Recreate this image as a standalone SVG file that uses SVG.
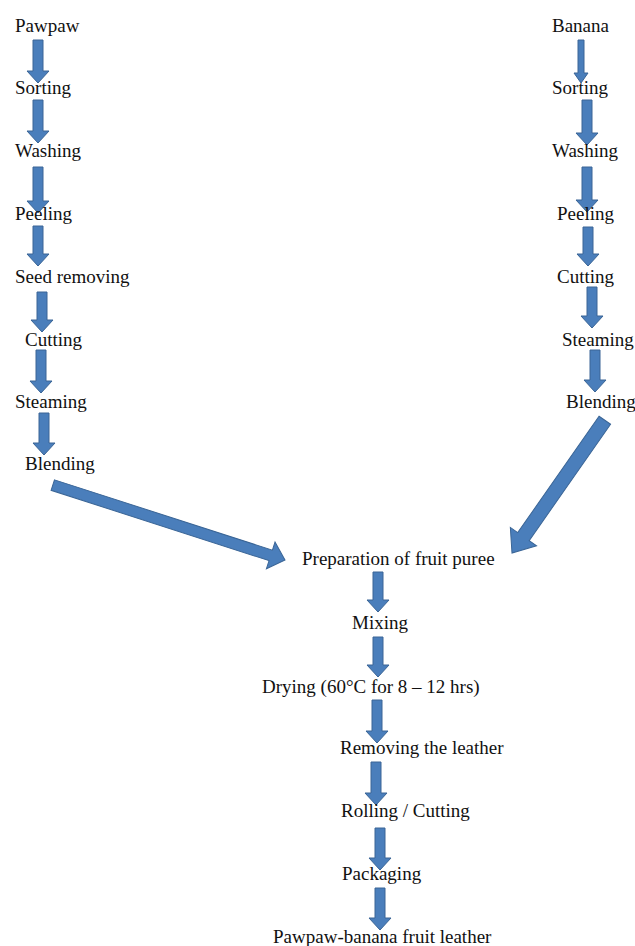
<svg xmlns="http://www.w3.org/2000/svg" width="635" height="946" viewBox="0 0 635 946">
<style>
.t{font-family:"Liberation Serif","Times New Roman",serif;font-size:19px;fill:#111}
.a{fill:#4a7ebb;stroke:#3a6596;stroke-width:1;stroke-linejoin:miter}
</style>
<rect width="635" height="946" fill="#ffffff"/>
<g id="connectors">
<polygon class="a" transform="translate(38,83)" points="-5,-43 5,-43 5,-12 11,-12 0,0 -11,-12 -5,-12"/>
<polygon class="a" transform="translate(38,143)" points="-5,-43 5,-43 5,-12 11,-12 0,0 -11,-12 -5,-12"/>
<polygon class="a" transform="translate(38,213)" points="-5,-46 5,-46 5,-12 11,-12 0,0 -11,-12 -5,-12"/>
<polygon class="a" transform="translate(38,266)" points="-5,-40 5,-40 5,-12 11,-12 0,0 -11,-12 -5,-12"/>
<polygon class="a" transform="translate(42,332)" points="-5,-40 5,-40 5,-12 11,-12 0,0 -11,-12 -5,-12"/>
<polygon class="a" transform="translate(41,393)" points="-5,-43 5,-43 5,-12 11,-12 0,0 -11,-12 -5,-12"/>
<polygon class="a" transform="translate(44,455)" points="-5,-42 5,-42 5,-12 11,-12 0,0 -11,-12 -5,-12"/>
<polygon class="a" transform="translate(581,83)" points="-3,-43 3,-43 3,-10 7,-10 0,0 -7,-10 -3,-10"/>
<polygon class="a" transform="translate(587,145)" points="-5,-45 5,-45 5,-12 11,-12 0,0 -11,-12 -5,-12"/>
<polygon class="a" transform="translate(587,212)" points="-5,-45 5,-45 5,-12 11,-12 0,0 -11,-12 -5,-12"/>
<polygon class="a" transform="translate(588,266)" points="-5,-39 5,-39 5,-12 11,-12 0,0 -11,-12 -5,-12"/>
<polygon class="a" transform="translate(592,328)" points="-5,-41 5,-41 5,-12 11,-12 0,0 -11,-12 -5,-12"/>
<polygon class="a" transform="translate(595,392)" points="-5,-42 5,-42 5,-12 11,-12 0,0 -11,-12 -5,-12"/>
<polygon class="a" transform="translate(285,560) rotate(17.88)" points="-244,-5.5 -15,-5.5 -15,-14 0,0 -15,14 -15,5.5 -244,5.5"/>
<polygon class="a" transform="translate(512,553) rotate(124.96)" points="-162,-7 -20,-7 -20,-16 0,0 -20,16 -20,7 -162,7"/>
<polygon class="a" transform="translate(378,612)" points="-5,-40 5,-40 5,-12 11,-12 0,0 -11,-12 -5,-12"/>
<polygon class="a" transform="translate(378,677)" points="-5,-40 5,-40 5,-12 11,-12 0,0 -11,-12 -5,-12"/>
<polygon class="a" transform="translate(377,743)" points="-5,-43 5,-43 5,-12 11,-12 0,0 -11,-12 -5,-12"/>
<polygon class="a" transform="translate(376,805)" points="-5,-43 5,-43 5,-12 11,-12 0,0 -11,-12 -5,-12"/>
<polygon class="a" transform="translate(380,870)" points="-5,-42 5,-42 5,-12 11,-12 0,0 -11,-12 -5,-12"/>
<polygon class="a" transform="translate(380,930)" points="-5,-42 5,-42 5,-12 11,-12 0,0 -11,-12 -5,-12"/>
</g>
<g id="p-pawpaw"><text class="t" x="15" y="32">Pawpaw</text></g>
<g id="p-sorting"><text class="t" x="15" y="94">Sorting</text></g>
<g id="p-washing"><text class="t" x="15" y="157">Washing</text></g>
<g id="p-peeling"><text class="t" x="15" y="220">Peeling</text></g>
<g id="p-seed"><text class="t" x="15" y="283">Seed removing</text></g>
<g id="p-cutting"><text class="t" x="25" y="346">Cutting</text></g>
<g id="p-steaming"><text class="t" x="15" y="408">Steaming</text></g>
<g id="p-blending"><text class="t" x="25" y="470">Blending</text></g>
<g id="b-banana"><text class="t" x="552" y="32">Banana</text></g>
<g id="b-sorting"><text class="t" x="552" y="94">Sorting</text></g>
<g id="b-washing"><text class="t" x="552" y="157">Washing</text></g>
<g id="b-peeling"><text class="t" x="557" y="220">Peeling</text></g>
<g id="b-cutting"><text class="t" x="557" y="283">Cutting</text></g>
<g id="b-steaming"><text class="t" x="562" y="346">Steaming</text></g>
<g id="b-blending"><text class="t" x="566" y="408">Blending</text></g>
<g id="puree"><text class="t" x="302" y="565">Preparation of fruit puree</text></g>
<g id="mixing"><text class="t" x="352" y="629">Mixing</text></g>
<g id="drying"><text class="t" x="262" y="693">Drying (60°C for 8 – 12 hrs)</text></g>
<g id="removing"><text class="t" x="340" y="754">Removing the leather</text></g>
<g id="rolling"><text class="t" x="341" y="817">Rolling / Cutting</text></g>
<g id="packaging"><text class="t" x="342" y="880">Packaging</text></g>
<g id="product"><text class="t" x="273" y="943">Pawpaw-banana fruit leather</text></g>
</svg>
